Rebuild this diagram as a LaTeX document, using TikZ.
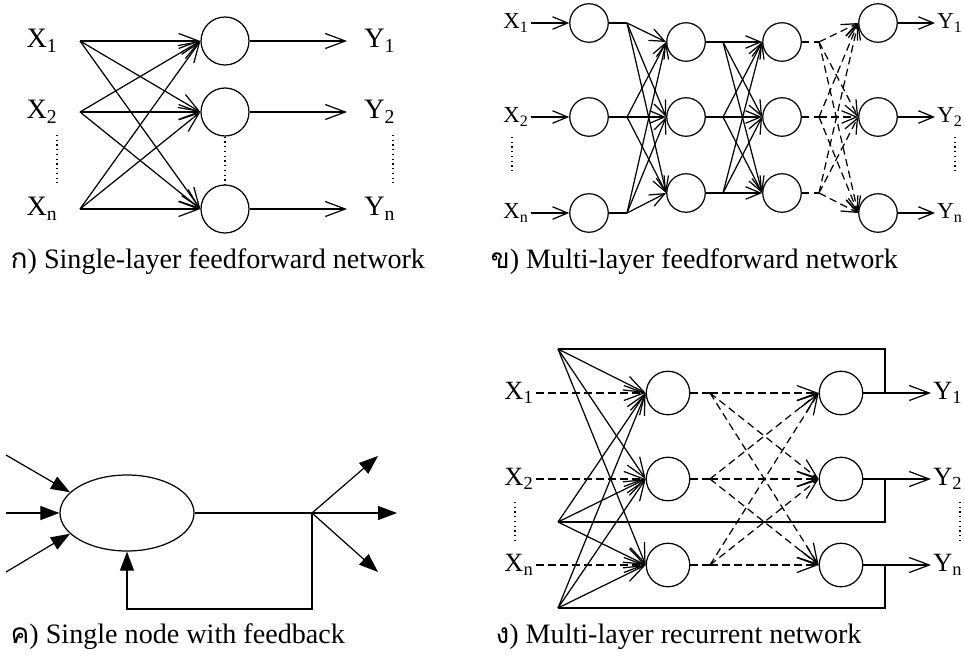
\documentclass[tikz,border=0pt]{standalone}
\usepackage{fontspec}
\setmainfont{Liberation Serif}
\newfontfamily\thaifont[Script=Thai]{Loma}
\usetikzlibrary{arrows.meta, shapes.geometric, calc}

\tikzset{
  neuron/.style={draw, circle, inner sep=0pt},
  lbl/.style={inner sep=1pt},
  caption/.style={font=\fontsize{16}{19}\selectfont, anchor=base west, inner sep=0pt},
  barb/.style={-{Straight Barb[length=4mm,width=3mm]}},
  smallbarb/.style={-{Straight Barb[length=3mm,width=2.5mm]}},
  filltip/.style={-{Triangle[length=3.8mm,width=2.8mm]}},
  dsh/.style={dash pattern=on 1.5mm off 0.9mm},
}

\begin{document}
\begin{tikzpicture}[x=0.2mm, y=-0.2mm, line width=0.7pt]
  \useasboundingbox (0,0) rectangle (964,659);

  % single layer
  \foreach \i/\y/\s in {1/41/1, 2/112/2, 3/209/n} {
    \node[lbl, anchor=east, font=\fontsize{16}{18}\selectfont] (xa\i) at (60,\y) {X\textsubscript{\s}};
    \coordinate (ia\i) at (80,\y);
    \node[neuron, minimum size=9.6mm] (na\i) at (225,\y) {};
    \coordinate (oa\i) at (347,\y);
    \node[lbl, anchor=west, font=\fontsize{16}{18}\selectfont] (ya\i) at (362,\y) {Y\textsubscript{\s}};
    \draw[barb] (na\i) -- (oa\i);
  }
  \foreach \i in {1,2,3}
    \foreach \j in {1,2,3}
      \draw[barb] (ia\i) -- (na\j.west);
  \draw[dotted] (57,135) -- (57,183);
  \draw[dotted] (na2) -- (na3);
  \draw[dotted] (393,135) -- (393,183);
  \node[caption] (capa) at (10,268) {{\thaifont ก}) Single-layer feedforward network};

  % multi layer
  \foreach \i/\y/\s in {1/23/1, 2/117/2, 3/213/n} {
    \node[lbl, anchor=east, font=\fontsize{13}{15}\selectfont] (xb\i) at (531,\y) {X\textsubscript{\s}};
    \node[neuron, minimum size=7.7mm] (pa\i) at (589,\y) {};
    \coordinate (ba\i) at (627,\y);
    \node[neuron, minimum size=7.7mm] (pd\i) at (878,\y) {};
    \node[lbl, anchor=west, font=\fontsize{13}{15}\selectfont] (yb\i) at (935,\y) {Y\textsubscript{\s}};
    \draw[smallbarb] (xb\i) -- (pa\i);
    \draw (pa\i) -- (ba\i);
    \draw[smallbarb] (pd\i) -- (yb\i);
  }
  \foreach \i/\y in {1/42, 2/117, 3/193} {
    \node[neuron, minimum size=7.7mm] (pb\i) at (686,\y) {};
    \coordinate (bb\i) at (723,\y);
    \node[neuron, minimum size=7.7mm] (pc\i) at (782,\y) {};
    \coordinate (bc\i) at (819,\y);
    \draw (pb\i) -- (bb\i);
    \draw[dsh] (pc\i) -- (bc\i);
  }
  \foreach \i in {1,2,3}
    \foreach \j in {1,2,3} {
      \draw[smallbarb] (ba\i) -- (pb\j.west);
      \draw[smallbarb] (bb\i) -- (pc\j.west);
      \draw[smallbarb, dsh] (bc\i) -- (pd\j.west);
    }
  \draw[dotted] (512,137) -- (512,173);
  \draw[dotted] (955,137) -- (955,173);
  \node[caption] (capb) at (490,268) {{\thaifont ข}) Multi-layer feedforward network};

  % single node with feedback
  \node[draw, ellipse, minimum width=26.8mm, minimum height=15.2mm, inner sep=0pt] (cell) at (127,513) {};
  \coordinate (ci1) at (6,455);
  \coordinate (ci2) at (6,513);
  \coordinate (ci3) at (6,572);
  \draw[filltip] (ci1) -- (cell.160);
  \draw[filltip] (ci2) -- (cell);
  \draw[filltip] (ci3) -- (cell.200);
  \coordinate (cb) at (312,513);
  \coordinate (co1) at (378,456);
  \coordinate (co2) at (397,513);
  \coordinate (co3) at (378,572);
  \coordinate (fb) at (312,609);
  \draw (cell) -- (cb);
  \foreach \i in {1,2,3}
    \draw[filltip] (cb) -- (co\i);
  \draw[filltip] (cb) -- (fb) -| (cell.south);
  \node[caption] (capc) at (10,643) {{\thaifont ค}) Single node with feedback};

  % recurrent
  \foreach \i/\y/\s in {1/393/1, 2/479/2, 3/565/n} {
    \node[lbl, anchor=east, font=\fontsize{15}{17}\selectfont] (xd\i) at (536,\y) {X\textsubscript{\s}};
    \node[neuron, minimum size=8.7mm] (ra\i) at (668,\y) {};
    \coordinate (bd\i) at (710,\y);
    \node[neuron, minimum size=8.7mm] (rb\i) at (841,\y) {};
    \coordinate (jd\i) at (885,\y);
    \node[lbl, anchor=west, font=\fontsize{15}{17}\selectfont] (yd\i) at (931,\y) {Y\textsubscript{\s}};
    \draw[barb, dsh] (xd\i) -- (ra\i);
    \draw[dsh] (ra\i) -- (bd\i);
    \draw[barb] (rb\i) -- (yd\i);
  }
  \foreach \i/\f in {1/349, 2/522, 3/608} {
    \coordinate (fd\i) at (558,\f);
    \draw (jd\i) |- (fd\i);
    \foreach \j in {1,2,3}
      \draw[barb] (fd\i) -- (ra\j.west);
  }
  \foreach \i in {1,2,3}
    \foreach \j in {1,2,3}
      \draw[barb, dsh] (bd\i) -- (rb\j.west);
  \draw[dotted] (515,502) -- (515,543);
  \draw[dotted] (960,502) -- (960,543);
  \node[caption] (capd) at (495,643) {{\thaifont ง}) Multi-layer recurrent network};
\end{tikzpicture}
\end{document}
